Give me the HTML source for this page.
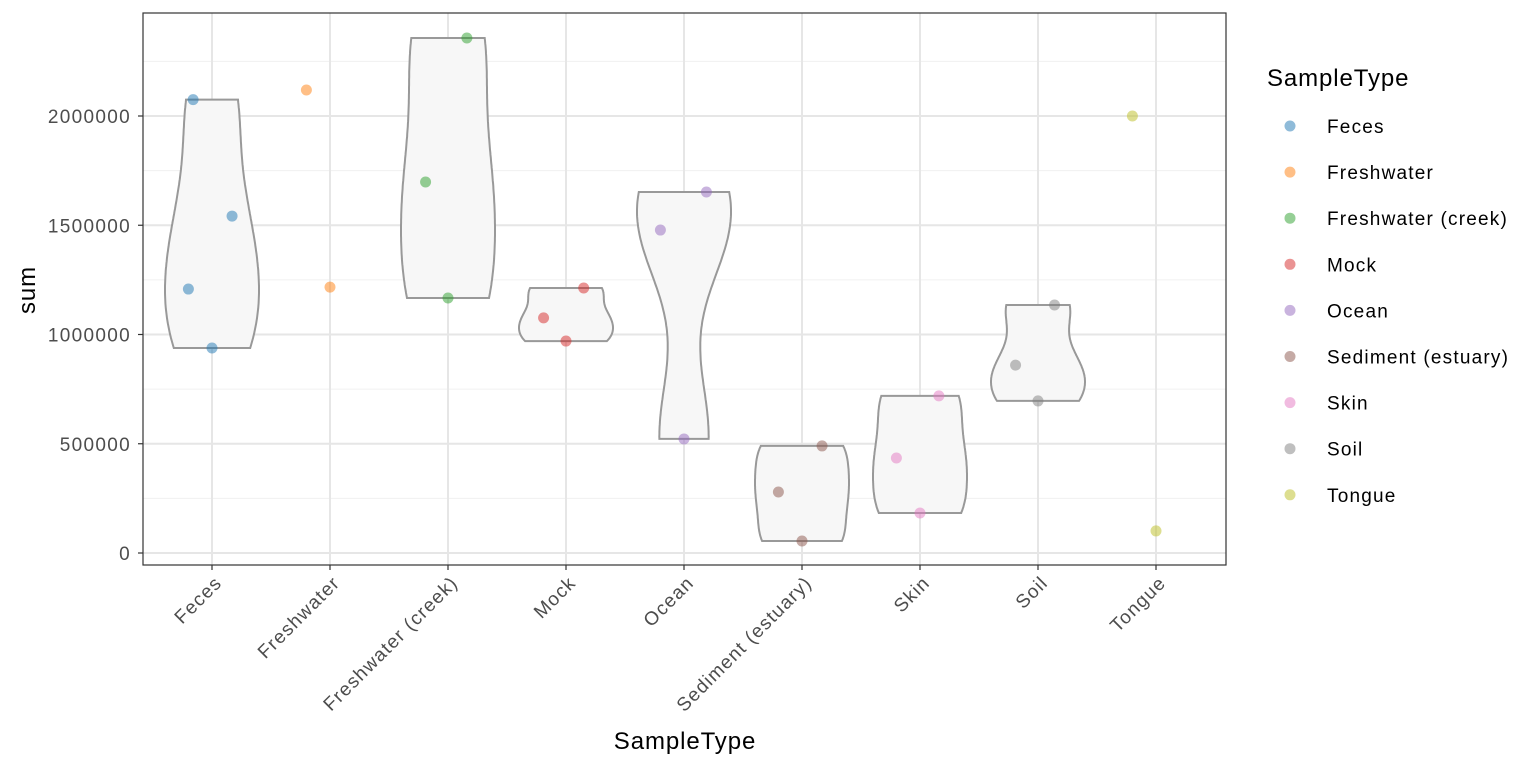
<!DOCTYPE html>
<html><head><meta charset="utf-8"><style>
body{margin:0;background:#fff;font-family:"Liberation Sans",Arial,sans-serif}
svg text{font-family:"Liberation Sans",Arial,sans-serif}
</style></head><body>
<svg id="chart" width="1536" height="768" xmlns="http://www.w3.org/2000/svg">
<rect width="1536" height="768" fill="#fff"/>
<g id="grid"></g><g id="violins"></g><g id="points"></g><g id="axes"></g><g id="legend"></g>
</svg>
<script>
const categories=["Feces","Freshwater","Freshwater (creek)","Mock","Ocean","Sediment (estuary)","Skin","Soil","Tongue"];
const colors=["#1f77b4","#ff7f0e","#2ca02c","#d62728","#9467bd","#8c564b","#e377c2","#7f7f7f","#bcbd22"];
const sampleCat=[0,0,0,0,1,1,2,2,2,3,3,3,4,4,4,5,5,5,6,6,6,7,7,7,8,8];
const sampleSum=[2075000,1542000,1208000,938000,2119000,1217000,2357000,1698000,1167000,1213000,1076000,970000,1652000,1478000,522000,490000,279000,55000,719000,435000,183000,1135000,860000,696000,2000000,101000];
const jitter=[-0.16,0.17,-0.2,0,-0.2,0,0.16,-0.19,0,0.15,-0.19,0,0.19,-0.2,0,0.17,-0.2,0,0.16,-0.2,0,0.14,-0.19,0,-0.2,0];
const yTicks=[0,500000,1000000,1500000,2000000];
const yTickLabels=["0","500000","1000000","1500000","2000000"];
const NS="http://www.w3.org/2000/svg";
const L=143,R=1226,T=13,B=565;
const xs=i=>212+i*118;
const ys=v=>553-v*(437/2000000);
function mk(tag,attrs,parent){const e=document.createElementNS(NS,tag);for(const k in attrs)e.setAttribute(k,attrs[k]);parent.appendChild(e);return e;}
const grid=document.getElementById('grid');
mk('rect',{x:L,y:T,width:R-L,height:B-T,fill:'#fff'},grid);
for(let i=0;i<yTicks.length;i++){
  const m=mk('line',{x1:L,x2:R,y1:ys(yTicks[i]+250000),y2:ys(yTicks[i]+250000),stroke:'#f0f0f0','stroke-width':1},grid);
  
  const g=mk('line',{x1:L,x2:R,y1:ys(yTicks[i]),y2:ys(yTicks[i]),stroke:'#e6e6e6','stroke-width':2},grid);
  
}
categories.forEach((c,i)=>{const g=mk('line',{x1:xs(i),x2:xs(i),y1:T,y2:B,stroke:'#e6e6e6','stroke-width':2},grid);});
const vg=document.getElementById('violins');
categories.forEach((c,i)=>{
  const v=sampleSum.filter((s,k)=>sampleCat[k]===i);
  if(v.length<3)return;
  const n=v.length,mean=v.reduce((a,b)=>a+b)/n;
  const sd=Math.sqrt(v.reduce((a,b)=>a+(b-mean)**2,0)/(n-1));
  const s=[...v].sort((a,b)=>a-b);
  const q=p=>{const h=(n-1)*p,lo=Math.floor(h);return s[lo]+(h-lo)*((s[lo+1]??s[lo])-s[lo]);};
  const iqr=q(0.75)-q(0.25);
  let lo=Math.min(sd,iqr/1.34);if(!(lo>0))lo=sd;
  const bw=0.9*lo*Math.pow(n,-0.2);
  const mn=s[0],mx=s[n-1],N=100,pts=[];
  for(let j=0;j<=N;j++){const y=mn+(mx-mn)*j/N;let d=0;v.forEach(x=>d+=Math.exp(-0.5*((y-x)/bw)**2));pts.push([y,d]);}
  const dm=Math.max(...pts.map(p=>p[1]));
  const hw=47;
  let path='';
  pts.forEach((p,j)=>{path+=(j?'L':'M')+(xs(i)+hw*p[1]/dm).toFixed(1)+','+ys(p[0]).toFixed(1);});
  for(let j=pts.length-1;j>=0;j--){const p=pts[j];path+='L'+(xs(i)-hw*p[1]/dm).toFixed(1)+','+ys(p[0]).toFixed(1);}
  path+='Z';
  const e=mk('path',{d:path,fill:'#f7f7f7',stroke:'#999','stroke-width':2},vg);
  
  
});
const pg=document.getElementById('points');
sampleSum.forEach((v,k)=>{
  const e=mk('circle',{cx:xs(sampleCat[k]+jitter[k]),cy:ys(v),r:5.5,fill:colors[sampleCat[k]],'fill-opacity':0.5},pg);
  
});
const ax=document.getElementById('axes');
const border=mk('rect',{x:L,y:T,width:R-L,height:B-T,fill:'none',stroke:'#333','stroke-width':1.2},ax);

yTicks.forEach((t,i)=>{
  mk('line',{x1:L-5,x2:L,y1:ys(t),y2:ys(t),stroke:'#333','stroke-width':1.2},ax);
  const e=mk('text',{x:131,y:ys(t)+7,'text-anchor':'end','font-size':19,'letter-spacing':1.3,fill:'#4d4d4d'},ax);e.textContent=yTickLabels[i];
  
});
categories.forEach((c,i)=>{
  mk('line',{x1:xs(i),x2:xs(i),y1:B,y2:B+5,stroke:'#333','stroke-width':1.2},ax);
  const ax0=xs(i)+11,ay0=B+19;
  const e=mk('text',{x:ax0,y:ay0,'text-anchor':'end','font-size':19,'letter-spacing':1.2,fill:'#4d4d4d',transform:`rotate(-45 ${ax0} ${ay0})`},ax);e.textContent=c;
  
});
let e=mk('text',{x:685,y:749,'text-anchor':'middle','font-size':24,'letter-spacing':0.9,fill:'#000'},ax);e.textContent='SampleType';

e=mk('text',{x:35,y:290,'text-anchor':'middle','font-size':24,'letter-spacing':0.9,fill:'#000',transform:'rotate(-90 35 290)'},ax);e.textContent='sum';

const lg=document.getElementById('legend');
e=mk('text',{x:1267,y:86,'font-size':24,'letter-spacing':0.9,fill:'#000'},lg);e.textContent='SampleType';

categories.forEach((c,i)=>{
  const y=126+i*46.1;
  const d=mk('circle',{cx:1290,cy:y,r:5.5,fill:colors[i],'fill-opacity':0.5},lg);
  
  const t=mk('text',{x:1327,y:y+7,'font-size':19,'letter-spacing':1.2,fill:'#000'},lg);t.textContent=c;
  
});
</script>
</body></html>
